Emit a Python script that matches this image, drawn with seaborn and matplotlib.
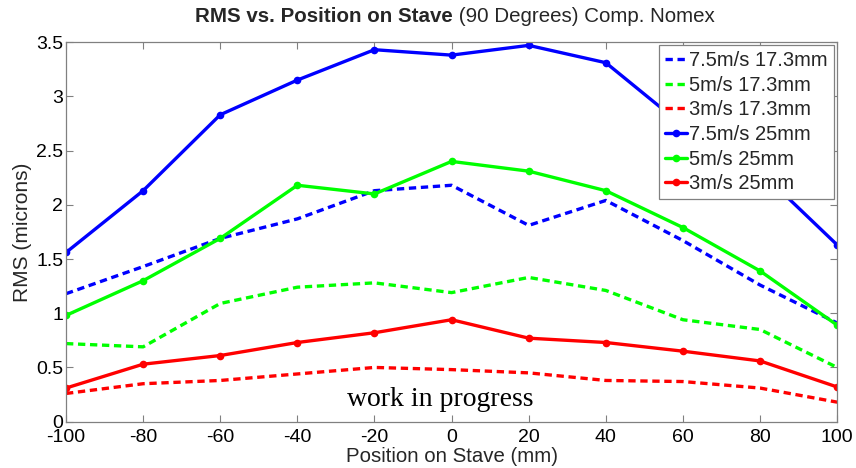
import matplotlib
matplotlib.use("Agg")
import matplotlib.pyplot as plt
import seaborn as sns
import pandas as pd

# Position along the stave (mm)
position = [-100, -80, -60, -40, -20, 0, 20, 40, 60, 80, 100]

# RMS displacement (microns) per flow speed and gap
rms_75_173 = [1.18, 1.43, 1.69, 1.87, 2.13, 2.18, 1.81, 2.04, 1.67, 1.26, 0.91]
rms_5_173 = [0.72, 0.69, 1.09, 1.24, 1.28, 1.19, 1.33, 1.21, 0.94, 0.85, 0.50]
rms_3_173 = [0.26, 0.35, 0.38, 0.44, 0.50, 0.48, 0.45, 0.38, 0.37, 0.31, 0.18]
rms_75_25 = [1.56, 2.13, 2.83, 3.15, 3.43, 3.38, 3.47, 3.31, 2.73, 2.31, 1.63]
rms_5_25 = [0.98, 1.30, 1.69, 2.18, 2.10, 2.40, 2.31, 2.13, 1.79, 1.39, 0.89]
rms_3_25 = [0.31, 0.53, 0.61, 0.73, 0.82, 0.94, 0.77, 0.73, 0.65, 0.56, 0.32]

series_labels = ["7.5m/s 17.3mm", "5m/s 17.3mm", "3m/s 17.3mm",
                 "7.5m/s 25mm", "5m/s 25mm", "3m/s 25mm"]
series_values = [rms_75_173, rms_5_173, rms_3_173, rms_75_25, rms_5_25, rms_3_25]
series_colors = ["#0000ff", "#00ff00", "#ff0000", "#0000ff", "#00ff00", "#ff0000"]
series_dashed = [True, True, True, False, False, False]

x_ticks = [-100, -80, -60, -40, -20, 0, 20, 40, 60, 80, 100]
y_ticks = [0, 0.5, 1, 1.5, 2, 2.5, 3, 3.5]
y_tick_labels = ["0", "0.5", "1", "1.5", "2", "2.5", "3", "3.5"]

sns.set_theme(style="white")
plt.rcParams["font.family"] = ["Liberation Sans", "DejaVu Sans"]

fig = plt.figure(figsize=(8.56, 4.68), dpi=100)
ax = fig.add_axes([0.0771, 0.099, 0.9009, 0.811])

for label, vals, col, dashed in zip(series_labels, series_values,
                                    series_colors, series_dashed):
    df = pd.DataFrame({"pos": position, "rms": vals})
    if dashed:
        sns.lineplot(data=df, x="pos", y="rms", ax=ax, color=col,
                     linestyle=(0, (2.2, 1.4)), linewidth=2.4, label=label)
    else:
        sns.lineplot(data=df, x="pos", y="rms", ax=ax, color=col,
                     linestyle="-", linewidth=2.4, marker="o", markersize=5.5,
                     markeredgewidth=0, label=label)

ax.set_xlim(-100, 100)
ax.set_ylim(0, 3.5)
ax.set_xticks(x_ticks)
ax.set_xticklabels([str(t) for t in x_ticks])
ax.set_yticks(y_ticks)
ax.set_yticklabels(y_tick_labels)
ax.tick_params(axis="both", which="both", direction="in", length=5, width=0.8,
               color="#808080", labelsize=14, labelcolor="black",
               top=True, right=True, bottom=True, left=True)
ax.tick_params(axis="x", pad=5)
ax.tick_params(axis="y", pad=2)
for sp in ax.spines.values():
    sp.set_color("#808080")
    sp.set_linewidth(0.9)

ax.set_xlabel("Position on Stave (mm)", fontsize=14.7, labelpad=1)
ax.set_ylabel("RMS (microns)", fontsize=15, labelpad=3)

ax.text(-27, 0.14, "work in progress", family=["Liberation Serif", "DejaVu Serif"],
        fontsize=20, ha="left", va="baseline", color="black")

leg = ax.legend(loc="upper right", bbox_to_anchor=(0.996, 0.992),
                borderaxespad=0, fontsize=14.5, frameon=True, fancybox=False,
                framealpha=1, edgecolor="#808080", handlelength=1.1,
                handletextpad=0.1, labelspacing=0.28, borderpad=0.3)
leg.get_frame().set_linewidth(0.9)

fig.text(0.529, 0.953, "RMS vs. Position on Stave", fontsize=14.8,
         fontweight="bold", ha="right", va="baseline")
fig.text(0.529, 0.953, " (90 Degrees) Comp. Nomex", fontsize=14.8,
         ha="left", va="baseline")

fig.savefig("out.png", dpi=100)
